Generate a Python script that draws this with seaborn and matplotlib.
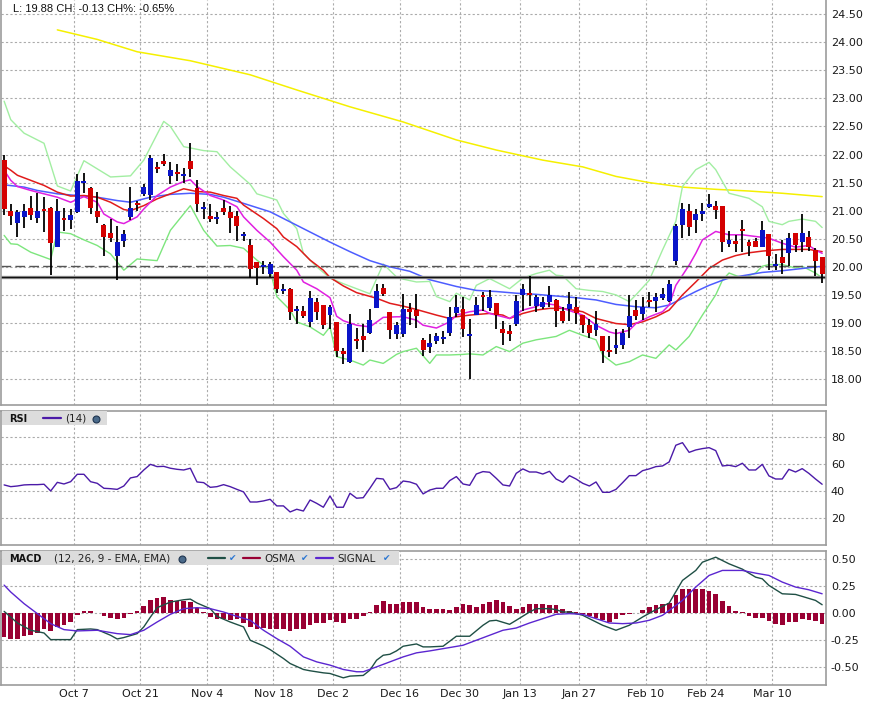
import matplotlib
matplotlib.use("Agg")
import matplotlib.pyplot as plt
from matplotlib.lines import Line2D
from matplotlib.patches import Rectangle
from matplotlib.ticker import FormatStrFormatter
import seaborn as sns
import numpy as np
import pandas as pd

## trading days shown on the chart
holidays = ['2013-11-28', '2013-12-25', '2014-01-01', '2014-01-20', '2014-02-17']
days = pd.bdate_range('2013-09-20', '2014-03-19')
days = days[~days.isin(pd.to_datetime(holidays))]

tick_dates = ['2013-10-07', '2013-10-21', '2013-11-04', '2013-11-18', '2013-12-02', '2013-12-16',
              '2013-12-30', '2014-01-13', '2014-01-27', '2014-02-10', '2014-02-24', '2014-03-10']
tick_labels = ['Oct 7', 'Oct 21', 'Nov 4', 'Nov 18', 'Dec 2', 'Dec 16',
               'Dec 30', 'Jan 13', 'Jan 27', 'Feb 10', 'Feb 24', 'Mar 10']

##OHLC
opens = [21.91, 21.00, 20.78, 20.89, 21.05, 20.87, 21.02, 21.04, 20.36, 20.87,
         20.83, 20.97, 21.49, 21.41, 21.00, 20.75, 20.61, 20.19, 20.46, 20.89,
         21.14, 21.29, 21.28, 21.77, 21.88, 21.61, 21.68, 21.62, 21.89, 21.41,
         21.03, 20.91, 20.85, 21.04, 20.98, 20.91, 20.55, 20.38, 20.09, 19.99,
         19.87, 19.90, 19.57, 19.60, 19.22, 19.21, 19.01, 19.37, 19.32, 19.15,
         19.01, 18.50, 18.30, 18.71, 18.77, 18.83, 19.27, 19.63, 19.19, 18.81,
         18.80, 19.24, 19.23, 18.70, 18.58, 18.67, 18.71, 18.83, 19.17, 19.25,
         18.76, 19.15, 19.49, 19.26, 19.36, 18.90, 18.86, 18.99, 19.49, 19.52,
         19.31, 19.28, 19.37, 19.41, 19.21, 19.25, 19.28, 19.15, 18.97, 18.87,
         18.76, 18.52, 18.55, 18.61, 18.92, 19.23, 19.16, 19.41, 19.40, 19.45,
         19.39, 20.11, 20.75, 21.00, 20.84, 20.94, 21.06, 21.08, 21.08, 20.40,
         20.46, 20.66, 20.44, 20.46, 20.36, 20.59, 20.02, 20.17, 20.24, 20.61,
         20.45, 20.53, 20.30, 20.17]
highs = [22.00, 21.11, 21.02, 21.12, 21.26, 21.32, 21.24, 21.06, 21.20, 21.05,
         21.03, 21.66, 21.67, 21.43, 21.34, 20.76, 20.86, 20.72, 20.65, 21.43,
         21.18, 21.48, 21.99, 21.86, 22.01, 21.86, 21.83, 21.76, 22.21, 21.55,
         21.15, 21.11, 20.98, 21.19, 21.08, 21.00, 20.62, 20.49, 20.09, 20.11,
         20.09, 19.91, 19.70, 19.63, 19.31, 19.30, 19.57, 19.44, 19.32, 19.32,
         19.01, 18.56, 19.16, 18.91, 18.99, 19.25, 19.69, 19.69, 19.19, 19.02,
         19.52, 19.36, 19.51, 18.73, 18.80, 18.82, 18.85, 19.28, 19.49, 19.47,
         19.07, 19.46, 19.55, 19.59, 19.36, 19.03, 18.96, 19.49, 19.70, 19.84,
         19.50, 19.46, 19.66, 19.42, 19.28, 19.56, 19.46, 19.15, 19.07, 19.22,
         18.76, 18.76, 18.89, 18.90, 19.50, 19.41, 19.47, 19.56, 19.53, 19.62,
         19.77, 20.76, 21.14, 21.12, 21.03, 21.13, 21.30, 21.17, 21.09, 20.64,
         20.57, 20.84, 20.48, 20.52, 20.81, 20.59, 20.23, 20.48, 20.61, 20.61,
         20.94, 20.63, 20.33, 20.17]
lows = [20.93, 20.75, 20.53, 20.69, 20.84, 20.78, 20.62, 19.85, 20.35, 20.64,
        20.67, 20.96, 21.31, 20.94, 20.78, 20.20, 20.44, 19.77, 20.35, 20.84,
        20.99, 21.27, 21.19, 21.67, 21.80, 21.48, 21.52, 21.49, 21.60, 20.97,
        20.86, 20.79, 20.77, 20.93, 20.60, 20.46, 20.46, 19.80, 19.67, 19.87,
        19.82, 19.54, 19.51, 19.05, 18.99, 19.09, 18.93, 19.05, 18.90, 18.90,
        18.40, 18.27, 18.29, 18.53, 18.49, 18.81, 19.26, 19.48, 18.71, 18.71,
        18.75, 18.97, 18.91, 18.41, 18.47, 18.63, 18.63, 18.76, 19.11, 18.75,
        18.00, 19.14, 19.22, 19.22, 18.89, 18.60, 18.67, 18.95, 19.22, 19.31,
        19.20, 19.24, 19.28, 18.93, 19.00, 19.03, 18.99, 18.82, 18.73, 18.76,
        18.29, 18.39, 18.45, 18.54, 18.74, 19.06, 19.06, 19.29, 19.19, 19.41,
        19.38, 20.04, 20.51, 20.54, 20.61, 20.82, 21.04, 20.85, 20.27, 20.36,
        20.27, 20.27, 20.20, 20.35, 20.35, 19.95, 19.95, 19.87, 20.02, 20.27,
        20.27, 20.29, 19.83, 19.72]
closes = [21.03, 20.90, 20.97, 21.00, 20.92, 21.00, 20.99, 20.42, 20.99, 20.83,
          20.93, 21.52, 21.52, 21.05, 20.89, 20.53, 20.51, 20.45, 20.59, 21.04,
          21.10, 21.43, 21.93, 21.74, 21.84, 21.73, 21.65, 21.65, 21.74, 21.12,
          21.07, 20.86, 20.88, 20.98, 20.87, 20.72, 20.58, 19.96, 19.98, 20.01,
          20.05, 19.61, 19.60, 19.20, 19.25, 19.12, 19.44, 19.20, 18.97, 19.28,
          18.50, 18.45, 18.98, 18.67, 18.69, 19.05, 19.57, 19.51, 18.87, 18.96,
          19.24, 19.19, 19.13, 18.51, 18.64, 18.77, 18.74, 19.11, 19.28, 18.89,
          18.80, 19.32, 19.46, 19.46, 19.14, 18.83, 18.80, 19.40, 19.61, 19.49,
          19.46, 19.38, 19.50, 19.21, 19.03, 19.33, 19.17, 18.97, 18.83, 18.99,
          18.50, 18.48, 18.60, 18.82, 19.13, 19.12, 19.29, 19.38, 19.47, 19.52,
          19.70, 20.73, 21.03, 20.71, 20.94, 21.00, 21.12, 21.01, 20.45, 20.48,
          20.41, 20.63, 20.37, 20.36, 20.66, 20.20, 20.05, 20.06, 20.51, 20.39,
          20.61, 20.36, 20.11, 19.88]

##overlay lines (bar index, value)
sma200_idx = [8, 14, 20, 28, 37, 44, 52, 60, 68, 74, 81, 87, 92, 97, 102, 107, 112, 117, 123]
sma200 = [24.22, 24.05, 23.83, 23.67, 23.42, 23.15, 22.85, 22.58, 22.26, 22.08,
          21.90, 21.78, 21.61, 21.50, 21.42, 21.38, 21.35, 21.31, 21.25]

bb_up_idx = [0, 1, 3, 6, 8, 10, 12, 16, 19, 21, 24, 25, 27, 30, 32, 34, 37, 38, 41, 42,
             44, 45, 47, 49, 51, 53, 55, 57, 59, 60, 62, 64, 65, 67, 68, 70, 71, 73, 75, 76,
             78, 80, 82, 83, 84, 86, 88, 90, 92, 94, 95, 97, 98, 99, 101, 102, 104, 106, 107, 109,
             110, 112, 114, 115, 117, 118, 120, 122, 123]
bb_up = [22.95, 22.62, 22.38, 22.20, 21.44, 21.35, 21.89, 21.60, 21.62, 21.90,
         22.59, 22.50, 22.14, 22.07, 22.05, 21.78, 21.47, 21.30, 21.19, 20.95,
         20.68, 20.24, 20.00, 19.80, 19.70, 19.61, 19.52, 20.05, 19.82, 19.78,
         19.73, 19.74, 19.47, 19.38, 19.53, 19.41, 19.67, 19.79, 19.67, 19.61,
         19.80, 19.88, 19.94, 19.85, 19.84, 19.61, 19.58, 19.56, 19.50, 19.38,
         19.50, 19.76, 20.03, 20.30, 20.81, 21.43, 21.73, 21.86, 21.73, 21.31,
         21.28, 21.22, 21.07, 20.81, 20.75, 20.81, 20.85, 20.81, 20.70]

bb_lo_idx = [0, 1, 2, 4, 7, 8, 10, 12, 14, 16, 18, 20, 21, 23, 25, 28, 30, 32, 34, 36,
             38, 40, 41, 43, 44, 46, 48, 49, 50, 52, 54, 55, 57, 59, 60, 62, 64, 65, 67, 69,
             70, 72, 74, 76, 78, 80, 83, 85, 87, 89, 90, 92, 94, 96, 98, 100, 101, 103, 105, 107,
             108, 109, 111, 113, 114, 115, 117, 119, 120, 122, 123]
bb_lo = [20.56, 20.41, 20.40, 20.26, 20.13, 20.62, 20.59, 20.48, 20.38, 20.23,
         19.94, 20.14, 20.13, 20.11, 20.65, 21.09, 20.65, 20.37, 20.38, 20.33,
         20.12, 19.94, 19.47, 19.23, 19.02, 18.93, 18.78, 18.93, 18.40, 18.34,
         18.25, 18.34, 18.28, 18.44, 18.49, 18.55, 18.28, 18.43, 18.43, 18.44,
         18.45, 18.43, 18.58, 18.49, 18.64, 18.70, 18.76, 18.87, 18.78, 18.70,
         18.43, 18.25, 18.31, 18.43, 18.37, 18.61, 18.52, 18.76, 19.14, 19.50,
         19.76, 19.89, 19.80, 19.89, 20.01, 20.04, 20.04, 19.98, 20.01, 19.89,
         19.80]

ma_red_idx = [0, 1, 2, 4, 6, 8, 10, 12, 14, 16, 18, 19, 21, 23, 25, 27, 29, 31, 33, 35,
              36, 39, 41, 42, 44, 46, 48, 49, 51, 53, 56, 58, 60, 62, 65, 67, 68, 70, 73, 75,
              76, 78, 80, 82, 84, 87, 89, 92, 94, 96, 98, 100, 102, 104, 106, 108, 110, 112, 114, 117,
              119, 121, 123]
ma_red = [21.80, 21.72, 21.63, 21.54, 21.45, 21.33, 21.26, 21.27, 21.24, 21.15,
          21.02, 21.00, 21.09, 21.21, 21.30, 21.39, 21.34, 21.33, 21.27, 21.22,
          21.10, 20.86, 20.68, 20.53, 20.36, 20.12, 19.94, 19.81, 19.66, 19.54,
          19.44, 19.35, 19.30, 19.24, 19.14, 19.08, 19.11, 19.14, 19.17, 19.14,
          19.08, 19.17, 19.23, 19.26, 19.26, 19.20, 19.08, 18.99, 18.97, 19.02,
          19.11, 19.23, 19.50, 19.73, 19.97, 20.12, 20.20, 20.25, 20.28, 20.31,
          20.31, 20.31, 20.27]

ma_mag_idx = [0, 1, 2, 4, 6, 8, 10, 12, 14, 15, 17, 18, 20, 21, 23, 25, 27, 28, 29, 31,
              33, 35, 36, 38, 40, 42, 44, 45, 47, 49, 50, 51, 53, 55, 57, 59, 60, 62, 63, 65,
              67, 68, 70, 72, 73, 75, 76, 78, 80, 81, 83, 84, 87, 89, 91, 92, 94, 95, 97, 99,
              100, 101, 103, 104, 105, 107, 109, 111, 113, 115, 117, 119, 121, 122, 123]
ma_mag = [21.72, 21.54, 21.43, 21.36, 21.30, 21.24, 21.15, 21.25, 21.15, 20.94,
          20.80, 20.77, 20.89, 21.03, 21.27, 21.42, 21.52, 21.55, 21.43, 21.27,
          21.19, 21.07, 20.89, 20.65, 20.44, 20.18, 19.94, 19.73, 19.61, 19.45,
          19.12, 19.04, 18.96, 18.93, 19.10, 19.11, 19.11, 19.05, 18.96, 18.91,
          19.02, 19.14, 19.20, 19.23, 19.17, 19.11, 19.08, 19.23, 19.29, 19.35,
          19.32, 19.26, 19.14, 18.96, 18.84, 18.81, 18.87, 18.99, 19.11, 19.20,
          19.32, 19.67, 20.03, 20.24, 20.48, 20.63, 20.57, 20.57, 20.54, 20.51,
          20.42, 20.35, 20.38, 20.30, 20.24]

ma_blue_idx = [0, 3, 5, 8, 11, 14, 17, 19, 22, 25, 28, 31, 33, 36, 40, 43, 46, 49, 52, 55,
               58, 61, 64, 68, 71, 74, 77, 80, 83, 86, 89, 92, 95, 98, 100, 102, 104, 106, 108, 109,
               112, 114, 117, 120, 123]
ma_blue = [21.46, 21.42, 21.36, 21.30, 21.27, 21.24, 21.18, 21.15, 21.24, 21.29,
           21.31, 21.29, 21.24, 21.13, 20.98, 20.80, 20.62, 20.44, 20.27, 20.11,
           20.00, 19.92, 19.77, 19.65, 19.58, 19.56, 19.53, 19.51, 19.48, 19.45,
           19.41, 19.33, 19.29, 19.27, 19.32, 19.44, 19.56, 19.67, 19.76, 19.80,
           19.86, 19.90, 19.93, 19.97, 20.01]

prev_close = 20.01
last_line = 19.81

##RSI(14), one value per bar
rsi = [44.6, 43.3, 43.8, 44.6, 44.8, 44.8, 45.1, 40.1, 46.5, 45.3,
       47.0, 52.5, 52.5, 47.0, 45.8, 42.1, 41.8, 41.3, 43.8, 49.8,
       50.8, 55.7, 59.9, 58.2, 58.4, 57.0, 56.2, 55.7, 57.0, 46.8,
       46.3, 42.8, 43.3, 44.8, 43.3, 41.3, 39.4, 31.9, 31.9, 32.7,
       33.9, 29.0, 29.0, 24.5, 26.5, 25.2, 33.4, 30.9, 28.0, 36.4,
       28.0, 28.0, 38.4, 34.7, 35.1, 42.1, 49.5, 49.0, 41.3, 42.6,
       47.5, 46.8, 45.1, 37.9, 40.8, 42.1, 42.1, 47.8, 50.8, 45.3,
       44.3, 52.7, 54.5, 54.0, 49.5, 44.6, 43.8, 53.2, 56.5, 54.2,
       54.2, 52.7, 54.7, 49.0, 46.5, 51.5, 49.0, 45.8, 43.8, 46.8,
       39.1, 39.1, 41.3, 46.3, 51.5, 51.5, 55.2, 56.5, 58.2, 58.7,
       61.7, 74.1, 76.0, 68.8, 70.6, 71.6, 72.3, 70.1, 58.7, 59.2,
       58.2, 60.7, 55.7, 55.7, 59.9, 51.3, 49.0, 49.0, 56.2, 54.2,
       56.7, 53.2, 49.0, 45.1]

##MACD (12, 26, 9)
osma = [-0.22, -0.24, -0.236, -0.21, -0.20, -0.18, -0.147, -0.165, -0.128, -0.113,
        -0.083, -0.015, 0.015, 0.015, 0.003, -0.03, -0.043, -0.058, -0.043, -0.006,
        0.015, 0.061, 0.116, 0.135, 0.144, 0.116, 0.107, 0.107, 0.10, 0.049,
        0.009, -0.037, -0.052, -0.052, -0.067, -0.058, -0.092, -0.128, -0.147, -0.141,
        -0.144, -0.147, -0.147, -0.165, -0.147, -0.147, -0.113, -0.092, -0.092, -0.064,
        -0.086, -0.092, -0.058, -0.052, -0.024, 0.009, 0.070, 0.107, 0.086, 0.083,
        0.10, 0.098, 0.098, 0.052, 0.034, 0.034, 0.034, 0.024, 0.055, 0.080,
        0.070, 0.055, 0.080, 0.10, 0.116, 0.10, 0.061, 0.037, 0.055, 0.080,
        0.080, 0.080, 0.070, 0.070, 0.040, 0.018, 0.012, -0.006, -0.03, -0.043,
        -0.067, -0.083, -0.058, -0.021, -0.006, 0.0, 0.024, 0.055, 0.070, 0.080,
        0.092, 0.162, 0.217, 0.217, 0.217, 0.217, 0.199, 0.171, 0.107, 0.061,
        0.015, 0.006, -0.031, -0.046, -0.046, -0.073, -0.104, -0.110, -0.086, -0.080,
        -0.055, -0.067, -0.073, -0.101]

macd_idx = [0, 2, 4, 6, 7, 8, 10, 11, 13, 14, 16, 17, 18, 20, 21, 22, 23, 25, 27, 28,
            29, 31, 32, 34, 36, 37, 39, 40, 42, 43, 45, 46, 48, 49, 51, 52, 54, 55, 56, 57,
            58, 59, 60, 62, 63, 64, 66, 68, 70, 72, 73, 74, 76, 77, 79, 80, 82, 83, 84, 85,
            87, 88, 90, 92, 94, 96, 98, 100, 102, 104, 105, 107, 109, 111, 113, 114, 115, 117, 119, 120,
            122, 123]
macd = [0.015, -0.092, -0.159, -0.184, -0.245, -0.245, -0.245, -0.153, -0.147, -0.153,
        -0.205, -0.239, -0.226, -0.190, -0.128, -0.037, 0.049, 0.101, 0.122, 0.128,
        0.092, 0.040, -0.031, -0.083, -0.128, -0.251, -0.303, -0.337, -0.419, -0.465,
        -0.520, -0.532, -0.551, -0.557, -0.597, -0.581, -0.575, -0.526, -0.435, -0.389,
        -0.380, -0.349, -0.306, -0.285, -0.312, -0.312, -0.306, -0.214, -0.214, -0.113,
        -0.073, -0.067, -0.104, -0.067, 0.009, 0.040, 0.040, 0.031, 0.009, 0.009,
        -0.021, -0.052, -0.113, -0.159, -0.113, -0.037, 0.031, 0.092, 0.300, 0.392,
        0.468, 0.514, 0.453, 0.404, 0.330, 0.315, 0.254, 0.177, 0.171, 0.153,
        0.116, 0.076]

signal_idx = [0, 1, 3, 5, 7, 9, 11, 14, 17, 19, 21, 23, 25, 27, 29, 31, 33, 35, 37, 39,
              41, 43, 45, 47, 49, 51, 53, 54, 56, 58, 60, 62, 64, 67, 69, 71, 73, 75, 77, 79,
              81, 83, 85, 87, 89, 91, 93, 95, 97, 99, 100, 102, 104, 106, 108, 111, 113, 115, 117, 119,
              121, 123]
signal = [0.257, 0.193, 0.086, -0.006, -0.098, -0.153, -0.165, -0.159, -0.190, -0.199,
          -0.159, -0.083, -0.012, 0.040, 0.049, 0.040, 0.009, -0.031, -0.067, -0.159,
          -0.236, -0.306, -0.404, -0.450, -0.480, -0.520, -0.541, -0.541, -0.496, -0.450,
          -0.404, -0.367, -0.349, -0.318, -0.297, -0.251, -0.205, -0.159, -0.138, -0.092,
          -0.052, -0.012, -0.006, -0.012, -0.052, -0.092, -0.098, -0.092, -0.067, -0.021,
          0.024, 0.116, 0.239, 0.346, 0.392, 0.392, 0.367, 0.346, 0.285, 0.239,
          0.214, 0.177]

## colours
up_col, down_col = '#0a14c8', '#d40000'
rsi_col = '#4b1aa8'
macd_col = '#1f4f45'
sig_col = '#5b26d0'
osma_col = '#990033'

sns.set_style("white")
plt.rcParams['font.family'] = ['DejaVu Sans']

W, H = 872, 710
fig = plt.figure(figsize=(W / 100, H / 100), dpi=100)

def px_box(x0, y0, x1, y1):
    return [x0 / W, 1 - y1 / H, (x1 - x0) / W, (y1 - y0) / H]

def fx(x):
    return x / W

def fy(y):
    return 1 - y / H

ax1 = fig.add_axes(px_box(1, 0, 826, 405))
ax2 = fig.add_axes(px_box(1, 411, 826, 545))
ax3 = fig.add_axes(px_box(1, 551, 826, 685))

df = pd.DataFrame({'open': opens, 'high': highs, 'low': lows, 'close': closes})
df['bar'] = np.arange(len(df))
df['up'] = df.close >= df.open
df['body_lo'] = df[['open', 'close']].min(axis=1)
df['body_h'] = (df.close - df.open).abs().clip(lower=0.035)

tick_pos = [days.get_loc(pd.Timestamp(d)) - 0.5 for d in tick_dates]

# price panel
sns.lineplot(x=sma200_idx, y=sma200, ax=ax1, color='#f5f000', linewidth=1.1, zorder=2)
sns.lineplot(x=bb_up_idx, y=bb_up, ax=ax1, color='#a2eea2', linewidth=1.0, zorder=2)
sns.lineplot(x=bb_lo_idx, y=bb_lo, ax=ax1, color='#7de67d', linewidth=1.0, zorder=2)
sns.lineplot(x=ma_blue_idx, y=ma_blue, ax=ax1, color='#4d5dff', linewidth=1.1, zorder=2)
sns.lineplot(x=ma_red_idx, y=ma_red, ax=ax1, color='#e01b1b', linewidth=1.1, zorder=2)
sns.lineplot(x=ma_mag_idx, y=ma_mag, ax=ax1, color='#e020e0', linewidth=1.1, zorder=2)
ax1.axhline(prev_close, color='#555555', lw=1.0, ls=(0, (7, 3)), zorder=2.5)
ax1.axhline(last_line, color='#9a9a9a', lw=2.4, zorder=2.4)
ax1.axhline(last_line, color='#111111', lw=1.0, zorder=2.5)

ax1.vlines(df.bar, df.low, df.high, color='black', lw=1.3, zorder=3)
ax1.bar(df.bar, df.body_h, bottom=df.body_lo, width=0.74,
        color=np.where(df.up, up_col, down_col), linewidth=0, zorder=4)

ax1.set_ylim(17.539, 24.752)
ax1.set_yticks(np.arange(18.0, 24.51, 0.5))
ax1.yaxis.set_major_formatter(FormatStrFormatter('%.2f'))

# RSI panel
sns.lineplot(x=df.bar, y=rsi, ax=ax2, color=rsi_col, linewidth=1.0)
ax2.set_ylim(-0.07, 99.55)
ax2.set_yticks([20, 40, 60, 80])

# MACD panel
ax3.bar(df.bar, osma, width=0.7, color=osma_col, linewidth=0, zorder=2)
sns.lineplot(x=macd_idx, y=macd, ax=ax3, color=macd_col, linewidth=1.0, zorder=3)
sns.lineplot(x=signal_idx, y=signal, ax=ax3, color=sig_col, linewidth=1.0, zorder=3)
ax3.set_ylim(-0.663, 0.571)
ax3.set_yticks([-0.5, -0.25, 0.0, 0.25, 0.5])
ax3.yaxis.set_major_formatter(FormatStrFormatter('%.2f'))

for ax in (ax1, ax2, ax3):
    ax.set_xlim(-0.47, 123.58)
    ax.set_xticks(tick_pos)
    ax.set_xlabel('')
    ax.set_ylabel('')
    ax.yaxis.tick_right()
    ax.grid(True, color='#ababab', linestyle=(0, (2, 2)), linewidth=0.8)
    ax.set_axisbelow(True)
    ax.tick_params(axis='y', length=0, pad=3.5, labelsize=8, colors='#1a1a1a')
    ax.tick_params(axis='x', length=0, pad=3, labelsize=8, colors='#1a1a1a')
    for s in ax.spines.values():
        s.set_color('#9c9c9c')
        s.set_linewidth(1.2)
ax1.spines['top'].set_visible(False)
ax1.tick_params(labelbottom=False)
ax2.tick_params(labelbottom=False)
ax3.set_xticklabels(tick_labels)

# header text
fig.text(fx(13), fy(9), 'L: 19.88 CH: -0.13 CH%: -0.65%', family='Liberation Sans',
         fontsize=8, va='center', ha='left', color='#111111')

# indicator captions
def globe(x, y):
    fig.add_artist(Line2D([fx(x)], [fy(y)], marker='o', markersize=5, color='#4a6a8a',
                          markeredgecolor='#1f3550', markeredgewidth=0.8,
                          transform=fig.transFigure, zorder=12))

def check(x, y):
    fig.text(fx(x), fy(y), '\u2714', fontsize=6.5, color='#2b76d2', ha='center', va='center', zorder=12)

def key_line(x0, x1, y, col):
    fig.add_artist(Line2D([fx(x0), fx(x1)], [fy(y), fy(y)], color=col, lw=1.6,
                          transform=fig.transFigure, zorder=12))

fig.add_artist(Rectangle((fx(2), fy(425)), 105 / W, 14 / H, transform=fig.transFigure,
                         facecolor='#dcdcdc', edgecolor='none', zorder=10))
fig.text(fx(9), fy(418.5), 'RSI', fontsize=7, fontweight='bold', va='center', ha='left',
         color='#111111', zorder=11)
key_line(43, 61, 418, rsi_col)
fig.text(fx(65), fy(418.5), '(14)', fontsize=7.5, va='center', ha='left', color='#222222', zorder=11)
globe(96, 419)

fig.add_artist(Rectangle((fx(2), fy(565)), 397 / W, 14 / H, transform=fig.transFigure,
                         facecolor='#dcdcdc', edgecolor='none', zorder=10))
fig.text(fx(9), fy(558.5), 'MACD', fontsize=7, fontweight='bold', va='center', ha='left',
         color='#111111', zorder=11)
fig.text(fx(54), fy(558.5), '(12, 26, 9 - EMA, EMA)', fontsize=7.5, va='center', ha='left',
         color='#222222', zorder=11)
globe(182, 559)
key_line(208, 225, 558, macd_col)
check(233, 559)
key_line(243, 260, 558, osma_col)
fig.text(fx(264), fy(558.5), 'OSMA', fontsize=7.5, va='center', ha='left', color='#222222', zorder=11)
check(305, 559)
key_line(316, 333, 558, sig_col)
fig.text(fx(337), fy(558.5), 'SIGNAL', fontsize=7.5, va='center', ha='left', color='#222222', zorder=11)
check(387, 559)

fig.savefig('out.png', dpi=100)
